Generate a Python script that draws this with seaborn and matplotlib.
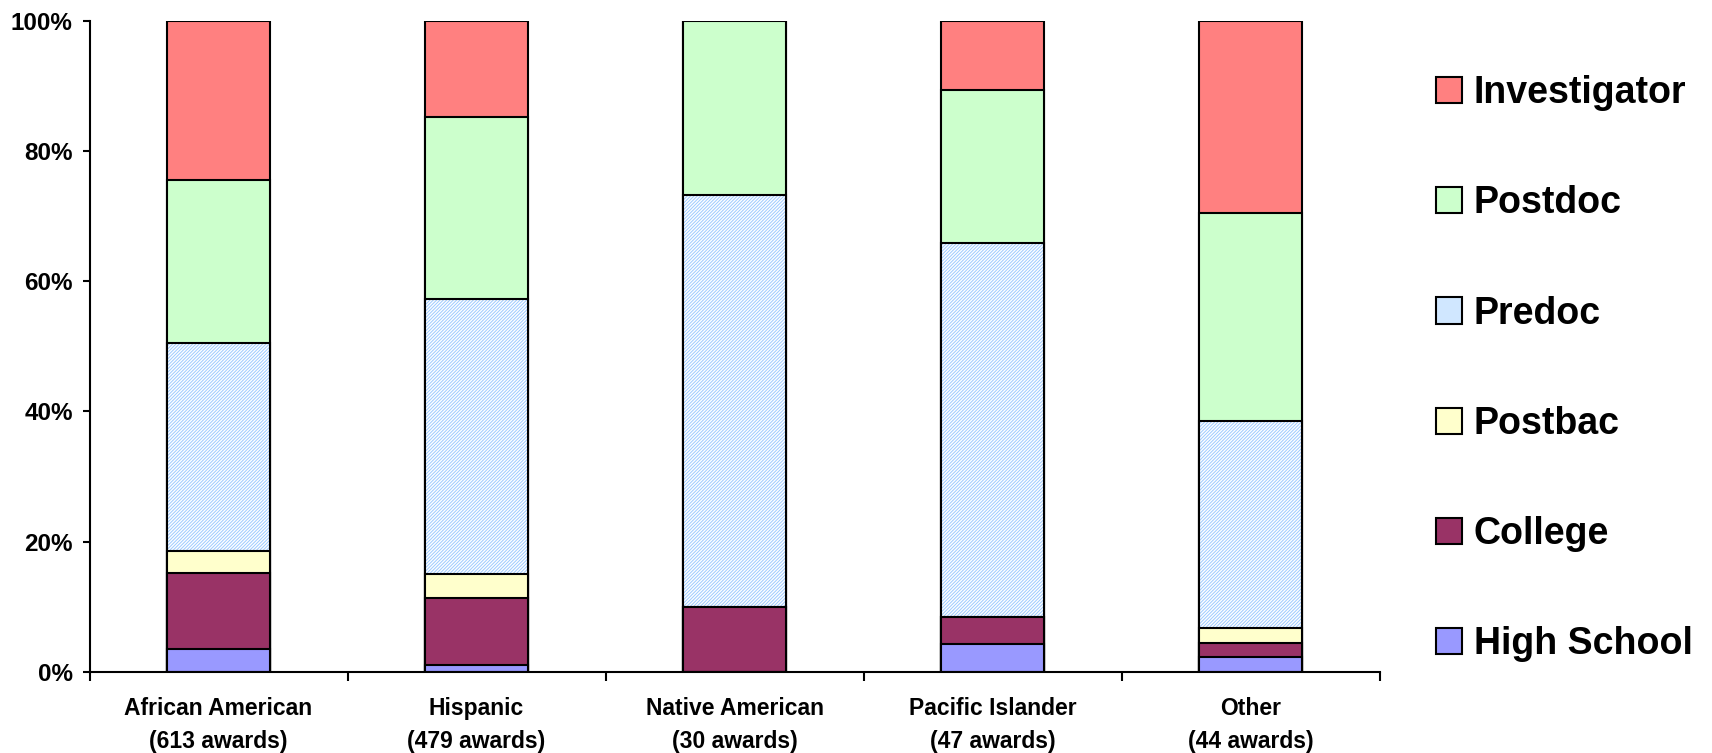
import matplotlib
matplotlib.use("Agg")
import matplotlib.pyplot as plt
from matplotlib.patches import Patch
import numpy as np
import pandas as pd
import seaborn as sns

# ---- data (percent of awards per career stage) ----
categories = ["African American", "Hispanic", "Native American", "Pacific Islander", "Other"]
awards = [613, 479, 30, 47, 44]
stages = ["High School", "College", "Postbac", "Predoc", "Postdoc", "Investigator"]
high_school = [3.5, 1.0, 0.0, 4.3, 2.3]
college = [11.7, 10.3, 10.0, 4.2, 2.2]
postbac = [3.3, 3.7, 0.0, 0.0, 2.3]
predoc = [32.0, 42.3, 63.3, 57.4, 31.8]
postdoc = [25.0, 27.9, 26.7, 23.5, 31.9]
investigator = [24.5, 14.8, 0.0, 10.6, 29.5]

colors = {
    "High School": "#9999FF",
    "College": "#993366",
    "Postbac": "#FFFFCC",
    "Predoc": "#FFFFFF",
    "Postdoc": "#CCFFCC",
    "Investigator": "#FF8080",
}
hatch_color = "#9CCAFF"

series = [high_school, college, postbac, predoc, postdoc, investigator]
cum = np.cumsum(np.array(series, dtype=float), axis=0)
labels = [f"{c}\n({n} awards)" for c, n in zip(categories, awards)]

sns.set_theme(style="white")
plt.rcParams["font.family"] = ["Liberation Sans", "DejaVu Sans"]
plt.rcParams["hatch.linewidth"] = 0.7
for k in ["text.color", "axes.labelcolor", "xtick.color", "ytick.color", "axes.edgecolor"]:
    plt.rcParams[k] = "black"

fig = plt.figure(figsize=(17.12, 7.53), dpi=100)
ax = fig.add_axes([0.0523, 0.1076, 0.7535, 0.8649])

EDGE_LW = 1.5
for i in range(len(stages) - 1, -1, -1):
    stage = stages[i]
    df = pd.DataFrame({"cat": labels, "val": cum[i]})
    if stage == "Predoc":
        sns.barplot(data=df, x="cat", y="val", order=labels, color="white",
                    saturation=1, width=0.4, edgecolor=hatch_color, linewidth=0,
                    hatch="/" * 10, errorbar=None, ax=ax)
        sns.barplot(data=df, x="cat", y="val", order=labels, fill=False,
                    saturation=1, width=0.4, edgecolor="black", linewidth=EDGE_LW,
                    errorbar=None, ax=ax)
    else:
        sns.barplot(data=df, x="cat", y="val", order=labels, color=colors[stage],
                    saturation=1, width=0.4, edgecolor="black", linewidth=EDGE_LW,
                    errorbar=None, ax=ax)

ax.set_xlim(-0.5, len(categories) - 0.5)
ax.set_ylim(0, 100)
ax.set_xlabel("")
ax.set_ylabel("")

# y axis
ax.set_yticks([0, 20, 40, 60, 80, 100])
ax.set_yticklabels([f"{v}%" for v in [0, 20, 40, 60, 80, 100]],
                   fontsize=17.5, fontweight="bold", color="black")
ax.tick_params(axis="y", direction="out", length=5, width=1.5, pad=7, left=True, colors="black")

# x axis: labels at centres, ticks at boundaries
ax.set_xticks(range(len(categories)))
ax.set_xticklabels(labels, fontsize=16.5, fontweight="bold", linespacing=1.55, color="black")
ax.tick_params(axis="x", which="major", length=0, pad=18, colors="black")
ax.set_xticks(np.arange(-0.5, len(categories), 1.0), minor=True)
ax.tick_params(axis="x", which="minor", direction="out", length=6.5, width=1.5, bottom=True, colors="black")

for side in ["top", "right"]:
    ax.spines[side].set_visible(False)
for side in ["left", "bottom"]:
    ax.spines[side].set_color("black")
    ax.spines[side].set_linewidth(1.5)
ax.grid(False)

# legend (top to bottom: Investigator ... High School)
handles = []
for stage in reversed(stages):
    if stage == "Predoc":
        h = Patch(facecolor="#D0E7FF", edgecolor="black", linewidth=1.5, label=stage)
    else:
        h = Patch(facecolor=colors[stage], edgecolor="black", linewidth=1.5, label=stage)
    handles.append(h)
leg = fig.legend(handles=handles, loc="upper left", bbox_to_anchor=(1436 / 1712, 1 - 75 / 753),
                 frameon=False, prop={"size": 27, "weight": "bold"},
                 handlelength=0.7, handleheight=0.7, handletextpad=0.3,
                 labelspacing=1.98, borderaxespad=0, borderpad=0)
for t in leg.get_texts():
    t.set_color("black")

fig.savefig("out.png", dpi=100)
